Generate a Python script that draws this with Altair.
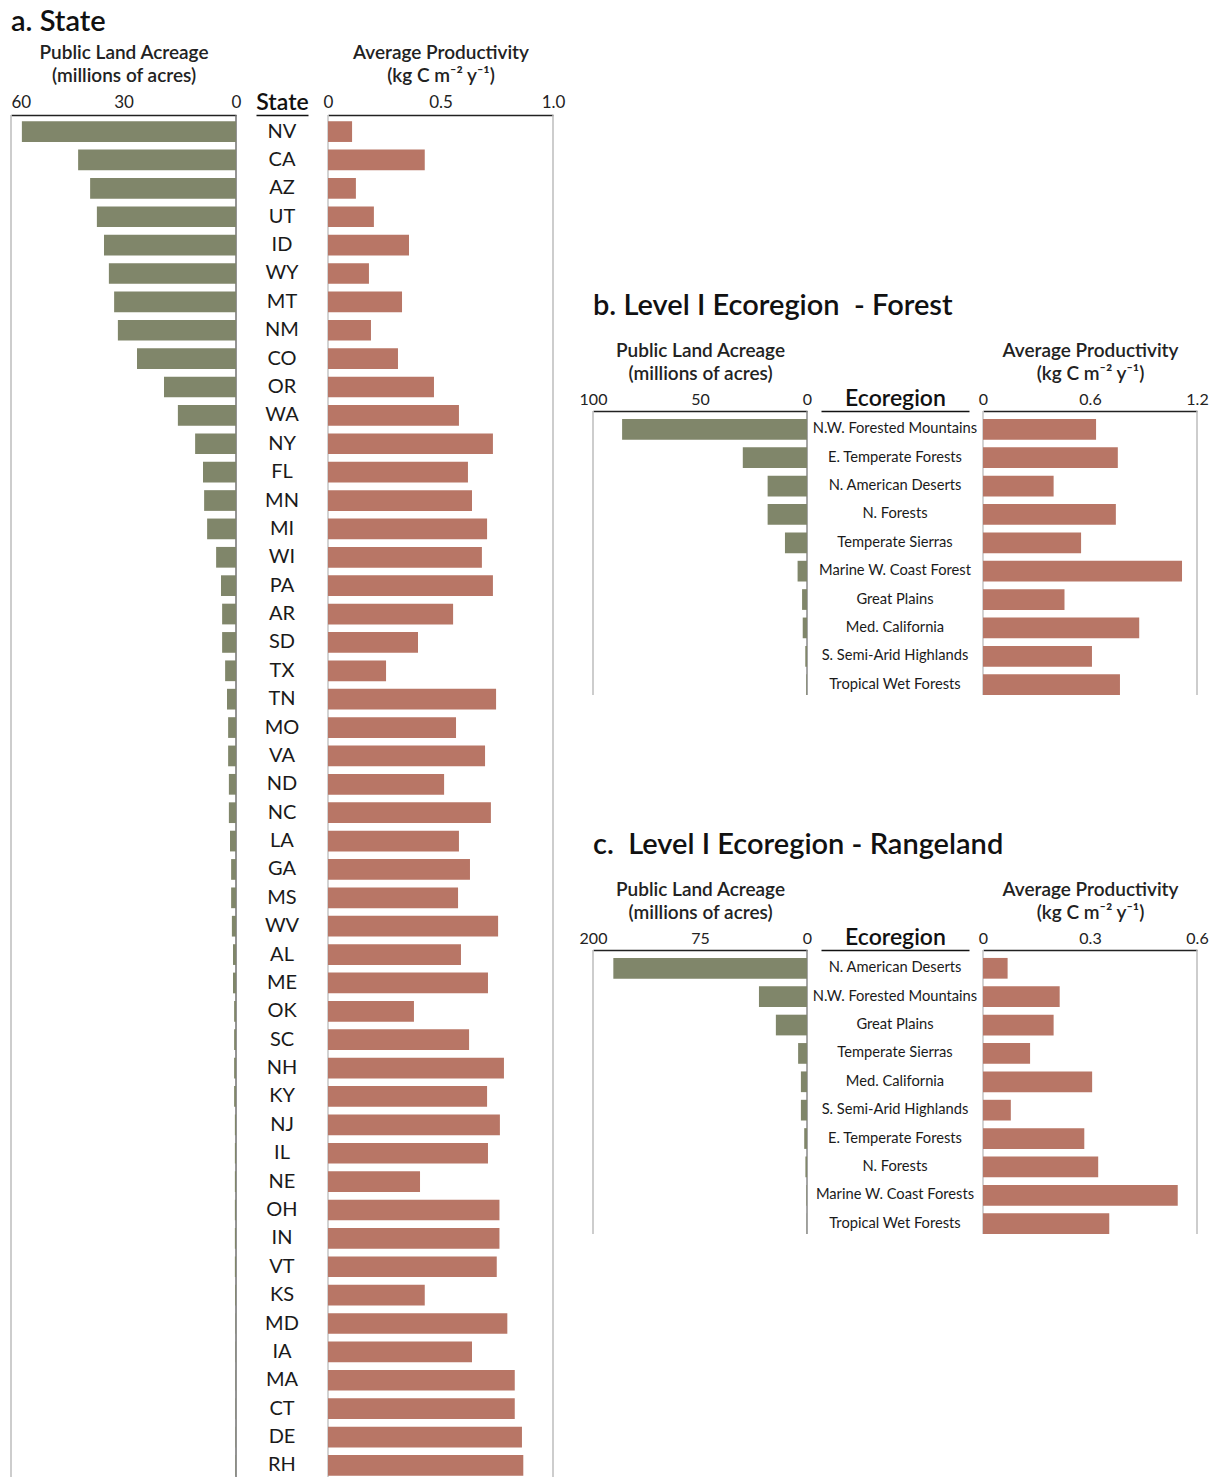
import altair as alt
import pandas as pd

# ---------------- data ----------------
states = ["NV", "CA", "AZ", "UT", "ID", "WY", "MT", "NM", "CO", "OR",
          "WA", "NY", "FL", "MN", "MI", "WI", "PA", "AR", "SD", "TX",
          "TN", "MO", "VA", "ND", "NC", "LA", "GA", "MS", "WV", "AL",
          "ME", "OK", "SC", "NH", "KY", "NJ", "IL", "NE", "OH", "IN",
          "VT", "KS", "MD", "IA", "MA", "CT", "DE", "RH"]
state_acres = [57.1, 42.1, 38.9, 37.1, 35.2, 33.9, 32.5, 31.5, 26.4, 19.2,
               15.5, 10.9, 8.8, 8.5, 7.7, 5.3, 4.0, 3.7, 3.7, 2.9,
               2.4, 2.1, 2.1, 1.9, 1.9, 1.6, 1.3, 1.3, 1.1, 0.8,
               0.8, 0.5, 0.5, 0.5, 0.5, 0.3, 0.3, 0.3, 0.3, 0.3,
               0.3, 0.2, 0.1, 0.1, 0.1, 0.1, 0.1, 0.1]
state_prod = [0.107, 0.43, 0.124, 0.204, 0.36, 0.182, 0.329, 0.191, 0.311, 0.471,
              0.582, 0.733, 0.622, 0.64, 0.707, 0.684, 0.733, 0.556, 0.40, 0.258,
              0.747, 0.569, 0.698, 0.516, 0.724, 0.582, 0.631, 0.578, 0.756, 0.591,
              0.711, 0.382, 0.627, 0.782, 0.707, 0.764, 0.711, 0.409, 0.762, 0.762,
              0.75, 0.43, 0.797, 0.64, 0.83, 0.83, 0.862, 0.868]

forest_eco = ["N.W. Forested Mountains", "E. Temperate Forests", "N. American Deserts",
              "N. Forests", "Temperate Sierras", "Marine W. Coast Forest", "Great Plains",
              "Med. California", "S. Semi-Arid Highlands", "Tropical Wet Forests"]
forest_acres = [86.4, 30.0, 18.4, 18.4, 10.3, 4.4, 2.3, 2.0, 0.8, 0.3]
forest_prod = [0.634, 0.756, 0.396, 0.745, 0.55, 1.116, 0.457, 0.876, 0.611, 0.768]

range_eco = ["N. American Deserts", "N.W. Forested Mountains", "Great Plains",
             "Temperate Sierras", "Med. California", "S. Semi-Arid Highlands",
             "E. Temperate Forests", "N. Forests", "Marine W. Coast Forests",
             "Tropical Wet Forests"]
range_acres = [181, 44.9, 29.1, 8.3, 5.7, 5.7, 2.6, 1.5, 0.5, 0.2]
range_prod = [0.069, 0.215, 0.198, 0.132, 0.306, 0.078, 0.284, 0.323, 0.546, 0.354]

GREEN = "#80866a"
RED = "#b87666"
FONT = "Lato"
ACRE_TITLE = ["Public Land Acreage", "(millions of acres)"]
PROD_TITLE = ["Average Productivity", "(kg C m\u207b\u00b2 y\u207b\u00b9)"]
one = pd.DataFrame({"k": [0]})


def axis_top(values, title, size, label_expr=None, left_end=None):
    kw = dict(orient="top", values=values, title=title, grid=False, ticks=False,
              domainColor="#222", domainWidth=1.5, labelFontSize=size,
              labelColor="#222", labelPadding=4, labelFlush=False,
              titleFontSize=19, titleFontWeight=600, titleColor="#222",
              titleLineHeight=23, titlePadding=8, labelFont=FONT, titleFont=FONT)
    if label_expr:
        kw["labelExpr"] = label_expr
    if left_end is not None:
        kw["labelAlign"] = {"condition": {"test": f"datum.value == {left_end}",
                                          "value": "left"},
                            "value": "center"}
    return alt.Axis(**kw)


def panel(cats, acres, prod, field, header, title, acre_dom, acre_vals, prod_dom,
          prod_vals, w_bar, w_lab, gap, height, lab_size, tick_size, pad_outer,
          align, title_offset, acre_expr=None, zero_color="#888", left_end=None):
    df = pd.DataFrame({field: cats, "acres": acres, "prod": prod})
    yscale = alt.Scale(type="band", paddingInner=0.27, paddingOuter=pad_outer,
                       align=align)
    y = alt.Y(f"{field}:N", sort=cats, axis=None, scale=yscale)

    xl = alt.X("acres:Q", scale=alt.Scale(domain=acre_dom, reverse=True, nice=False,
                                          zero=True),
               axis=axis_top(acre_vals, ACRE_TITLE, tick_size, acre_expr, left_end))
    left = alt.layer(
        alt.Chart(one).mark_rule(color="#bdbdbd", strokeWidth=1.5).encode(
            x=alt.datum(acre_dom[1])),
        alt.Chart(one).mark_rule(color=zero_color, strokeWidth=1.5).encode(
            x=alt.datum(0)),
        alt.Chart(df).mark_bar(color=GREEN).encode(x=xl, y=y),
    ).properties(width=w_bar, height=height)

    lab = alt.Chart(df).mark_text(fontSize=lab_size, color="#1a1a1a", font=FONT,
                                  baseline="middle").encode(
        y=y,
        text=f"{field}:N",
        x=alt.XDatum(0.5, type="quantitative", scale=alt.Scale(domain=[0, 1]),
                     axis=alt.Axis(orient="top", title=header, labels=False,
                                   ticks=False, grid=False, domainColor="#111",
                                   domainWidth=1.5, titleFontSize=23,
                                   titleFontWeight=600, titlePadding=1,
                                   titleColor="#111", titleFont=FONT)),
    ).properties(width=w_lab, height=height)

    xr = alt.X("prod:Q", scale=alt.Scale(domain=prod_dom, nice=False, zero=True),
               axis=axis_top(prod_vals, PROD_TITLE, tick_size,
                             "datum.value == 0 ? '0' : format(datum.value, '.1f')"))
    right = alt.layer(
        alt.Chart(one).mark_rule(color="#c4c4c4", strokeWidth=1.5).encode(
            x=alt.datum(0)),
        alt.Chart(one).mark_rule(color="#bdbdbd", strokeWidth=1.5).encode(
            x=alt.datum(prod_dom[1])),
        alt.Chart(df).mark_bar(color=RED).encode(x=xr, y=y),
    ).properties(width=w_bar, height=height)

    return alt.hconcat(
        left, lab, right, spacing=gap, bounds="flush",
        title=alt.Title(title, anchor="start", frame="group", fontSize=29,
                        fontWeight=600, font=FONT, color="#111",
                        offset=title_offset),
    )


panel_a = panel(states, state_acres, state_prod, "State", "State", "a. State",
                [0, 60], [60, 30, 0], [0, 1.0], [0, 0.5, 1.0],
                225, 52, 20, 1367, 20, 17, 0.22, 0.5, 6, zero_color="#707070",
                left_end=60)

panel_b = panel(forest_eco, forest_acres, forest_prod, "Ecoregion", "Ecoregion",
                "b. Level I Ecoregion\u00a0 - Forest",
                [0, 100], [100, 50, 0], [0, 1.2], [0, 0.6, 1.2],
                214, 148, 14, 284, 14.7, 16, 0.14, 1, 20)

panel_c = panel(range_eco, range_acres, range_prod, "Ecoregion", "Ecoregion",
                "c.\u00a0 Level I Ecoregion - Rangeland",
                [0, 200], [200, 100, 0], [0, 0.6], [0, 0.3, 0.6],
                214, 148, 14, 284, 14.7, 16, 0.14, 1, 20,
                acre_expr="datum.value == 100 ? '75' : datum.label")

spacer = alt.Chart(one).mark_point(opacity=0).encode(
    x=alt.value(0), y=alt.value(0)).properties(width=1, height=42)

col_bc = alt.vconcat(spacer, panel_b, panel_c, spacing=135)

chart = alt.hconcat(
    panel_a, col_bc, spacing=14,
    padding={"left": 2, "top": 0, "right": 0, "bottom": 0},
).configure(font=FONT, view=alt.ViewConfig(stroke=None))

chart.save("out.html", embed_options={"renderer": "svg", "actions": False})
